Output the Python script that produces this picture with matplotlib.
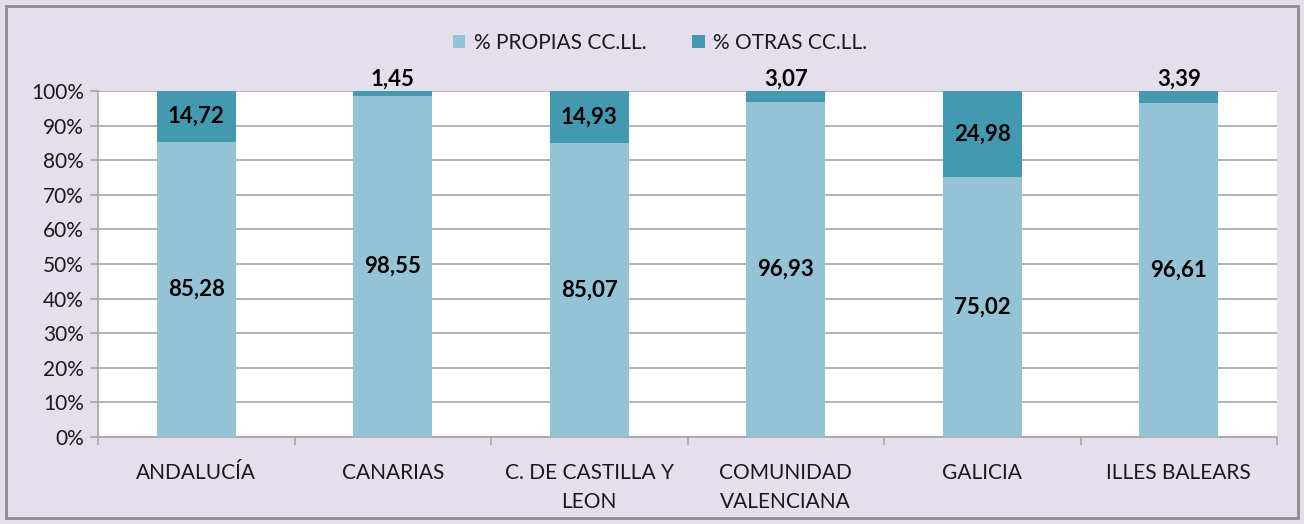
import matplotlib
matplotlib.use("Agg")
import matplotlib.pyplot as plt
from matplotlib.patches import Rectangle
import numpy as np

categories = ["ANDALUCÍA", "CANARIAS", "C. DE CASTILLA Y\nLEON", "COMUNIDAD\nVALENCIANA", "GALICIA", "ILLES BALEARS"]
propias = [85.28, 98.55, 85.07, 96.93, 75.02, 96.61]
otras = [14.72, 1.45, 14.93, 3.07, 24.98, 3.39]
series_names = ["% PROPIAS CC.LL.", "% OTRAS CC.LL."]
labels_propias = ["85,28", "98,55", "85,07", "96,93", "75,02", "96,61"]
labels_otras = ["14,72", "1,45", "14,93", "3,07", "24,98", "3,39"]
yticks = [0, 10, 20, 30, 40, 50, 60, 70, 80, 90, 100]

c_light = "#93C3D4"
c_dark = "#4399AF"
bg = "#E5DFEC"
grid_c = "#A6A6A6"
txt_c = "#1A1A1A"
font = ["Lato", "DejaVu Sans"]

fig = plt.figure(figsize=(13.04, 5.24), dpi=100)
fig.patch.set_facecolor(bg)
fig.patches.append(Rectangle((6/1304, 6/524), 1292/1304, 512/524, transform=fig.transFigure,
                             fill=False, edgecolor="#8C8C8C", linewidth=2))

ax = fig.add_axes([98/1304, 1-437/524, 1179/1304, 346/524])
ax.set_facecolor("white")
x = np.arange(len(categories))
w = 0.40
b1 = ax.bar(x, propias, w, color=c_light, label=series_names[0], zorder=3)
b2 = ax.bar(x, otras, w, bottom=propias, color=c_dark, label=series_names[1], zorder=3)

ax.set_xlim(-0.5, len(categories) - 0.5)
ax.set_ylim(0, 100)
ax.set_yticks(yticks)
ax.set_yticklabels([f"{v}%" for v in yticks], fontsize=15, family=font, color=txt_c)
ax.yaxis.grid(True, color=grid_c, linewidth=1.2, zorder=0)
ax.tick_params(axis="y", length=6, color=grid_c, width=1.2, pad=4)

ax.set_xticks(x)
ax.set_xticklabels(categories, fontsize=15, family=font, color=txt_c, linespacing=1.55)
ax.tick_params(axis="x", length=0, pad=19)
ax.set_xticks(np.arange(len(categories) + 1) - 0.5, minor=True)
ax.tick_params(axis="x", which="minor", length=6, color=grid_c, width=1.2)

for s in ["top", "right"]:
    ax.spines[s].set_visible(False)
for s in ["left", "bottom"]:
    ax.spines[s].set_color(grid_c)
    ax.spines[s].set_linewidth(1.2)

for i in range(len(categories)):
    ax.text(x[i], propias[i] / 2, labels_propias[i], ha="center", va="center",
            fontsize=16, fontweight="bold", family=font, color="black", zorder=5)
    if otras[i] >= 8:
        ax.text(x[i], propias[i] + otras[i] / 2, labels_otras[i], ha="center", va="center",
                fontsize=16, fontweight="bold", family=font, color="black", zorder=5)
    else:
        ax.text(x[i], 100.3, labels_otras[i], ha="center", va="bottom",
                fontsize=16, fontweight="bold", family=font, color="black", zorder=5, clip_on=False)

leg = fig.legend(handles=[b1, b2], labels=series_names, loc="center", bbox_to_anchor=(660/1304, 1-43/524),
                 ncol=2, frameon=False, prop={"family": font, "size": 15},
                 handlelength=0.6, handleheight=0.6, handletextpad=0.4, columnspacing=2.2)
for t in leg.get_texts():
    t.set_color(txt_c)

fig.savefig("out.png", dpi=100, facecolor=bg)
